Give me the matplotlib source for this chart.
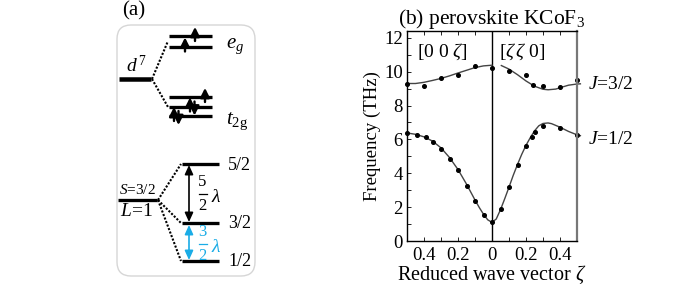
import matplotlib
matplotlib.use('Agg')
import matplotlib.pyplot as plt
from matplotlib.patches import FancyBboxPatch
from matplotlib.ticker import MultipleLocator, FuncFormatter

plt.rcParams['font.family'] = ['Liberation Serif', 'DejaVu Serif']
plt.rcParams['mathtext.fontset'] = 'custom'
plt.rcParams['mathtext.rm'] = 'Liberation Serif'
plt.rcParams['mathtext.it'] = 'Liberation Serif:italic'

# ---- (b) dispersion data: measured points ----
pts_x = [-0.5, -0.4, -0.3, -0.2, -0.1, 0.0, 0.1, 0.2, 0.24, 0.3, 0.4, 0.5]
pts_hi = [9.27, 9.17, 9.63, 9.82, 10.31, 10.22, 10.06, 9.78, 9.23, 9.17, 9.07, 9.49]

pts_lo_x = [-0.5, -0.44, -0.39, -0.345, -0.3, -0.25, -0.2, -0.15, -0.1, -0.05, 0.0,
            0.05, 0.1, 0.15, 0.2, 0.233, 0.25, 0.3, 0.4, 0.5]
pts_lo = [6.37, 6.27, 6.13, 5.84, 5.44, 4.85, 4.18, 3.25, 2.38, 1.54, 1.1,
          1.89, 3.17, 4.46, 5.62, 6.17, 6.41, 6.82, 6.67, 6.23]

# ---- fitted curves ----
cur_x_left = [-0.5, -0.45, -0.4, -0.35, -0.3, -0.25, -0.2, -0.15, -0.1, -0.05, 0.0]
cur_hi_left = [9.3, 9.3, 9.37, 9.48, 9.6, 9.75, 9.92, 10.08, 10.24, 10.34, 10.38]
cur_x_right = [0.055, 0.1, 0.15, 0.2, 0.25, 0.3, 0.33, 0.375, 0.4, 0.45, 0.5, 0.52]
cur_hi_right = [10.36, 10.15, 9.82, 9.45, 9.14, 8.96, 8.93, 8.97, 9.05, 9.2, 9.27, 9.28]

cur_lo_x = [-0.5, -0.45, -0.4, -0.35, -0.3, -0.25, -0.2, -0.15, -0.1, -0.075, -0.05,
            -0.025, 0.0, 0.025, 0.05, 0.075, 0.1, 0.125, 0.15, 0.175, 0.2, 0.225,
            0.25, 0.275, 0.3, 0.33, 0.35, 0.4, 0.45, 0.5, 0.52]
cur_lo = [6.38, 6.3, 6.15, 5.9, 5.5, 4.93, 4.22, 3.36, 2.42, 1.98, 1.58,
          1.25, 1.1, 1.3, 1.85, 2.5, 3.18, 3.88, 4.52, 5.12, 5.65, 6.1,
          6.5, 6.8, 6.94, 6.97, 6.93, 6.72, 6.47, 6.27, 6.22]

# ---- (a) level diagram, pixel positions ----
d7_y = 79
eg_y = [36, 46.5]
t2g_y = [97, 106.5, 116]
so_y = 200
j_names = ['5/2', '3/2', '1/2']
j_y = [164, 223, 261]

fig = plt.figure(figsize=(6.86, 2.85), dpi=100)

# diagram axes in pixel coordinates
axa = fig.add_axes([0, 0, 1, 1])
axa.set_xlim(0, 686)
axa.set_ylim(285, 0)
axa.axis('off')

box = FancyBboxPatch((117, 25), 138, 251, boxstyle='round,pad=0,rounding_size=14',
                     fc='none', ec='#d6d6d6', lw=1)
axa.add_patch(box)
axa.text(134, 11, '(a)', fontsize=15, ha='center', va='center')

lvl = 3.3 * 0.72
axa.plot([119, 151], [d7_y, d7_y], color='k', lw=4.5 * 0.72, solid_capstyle='butt')
axa.text(137, 76, r'$d^{\,7}$', fontsize=14, ha='center', va='bottom')
for y in eg_y + t2g_y:
    axa.plot([169, 212], [y, y], color='k', lw=lvl, solid_capstyle='butt')
axa.plot([152, 168], [d7_y, 41], color='k', lw=1.5, ls=(0, (1, 0.8)))
axa.plot([152, 168], [d7_y, 107], color='k', lw=1.5, ls=(0, (1, 0.8)))
axa.text(226, 46, r'$e_g$', fontsize=15, ha='left', va='center')
axa.text(226, 121, r'$t_{2\mathrm{g}}$', fontsize=15, ha='left', va='center')

# spins: (x, y of line, up?)
spins = [(195, eg_y[0], True), (185, eg_y[1], True),
         (205, t2g_y[0], True),
         (190, t2g_y[1], True), (194.5, t2g_y[1], False),
         (174, t2g_y[2], True), (178.5, t2g_y[2], False)]
for x, y, up in spins:
    if up:
        y0, y1 = y + 5, y - 9
    else:
        y0, y1 = y - 5, y + 9
    axa.annotate('', xy=(x, y1), xytext=(x, y0),
                 arrowprops=dict(arrowstyle='-|>,head_length=0.55,head_width=0.28',
                                 color='k', lw=1.7, shrinkA=0, shrinkB=0))

axa.plot([118, 157], [so_y, so_y], color='k', lw=lvl, solid_capstyle='butt')
axa.text(137, 197, r'$S$=3/2', fontsize=11, ha='center', va='bottom')
axa.text(136, 203, r'$L$=1', fontsize=14, ha='center', va='top')
for name, y in zip(j_names, j_y):
    axa.plot([182, 219], [y, y], color='k', lw=lvl, solid_capstyle='butt')
    axa.plot([158, 181], [so_y, y], color='k', lw=1.5, ls=(0, (1, 0.8)))
    axa.text(228, y + 1, name, fontsize=13, ha='left', va='center')

blue = '#1aace6'
axa.annotate('', xy=(189, j_y[0] + 1), xytext=(189, j_y[1] - 1),
             arrowprops=dict(arrowstyle='<|-|>,head_length=0.55,head_width=0.25',
                             color='k', lw=1.2, shrinkA=0, shrinkB=0))
axa.annotate('', xy=(189, j_y[1] + 2), xytext=(189, j_y[2] - 1),
             arrowprops=dict(arrowstyle='<|-|>,head_length=0.55,head_width=0.25',
                             color=blue, lw=1.2, shrinkA=0, shrinkB=0))


def frac_label(num, den, yc, color):
    # stacked fraction with lambda, drawn as separate pieces
    axa.text(202.5, yc - 12, num, fontsize=12, ha='center', va='center', color=color)
    axa.plot([198.5, 206.5], [yc, yc], color=color, lw=0.9)
    axa.text(202.5, yc + 12.5, den, fontsize=12, ha='center', va='center', color=color)
    axa.text(216, yc + 4, r'$\lambda$', fontsize=14, ha='center', va='center', color=color)


frac_label('5', '2', 194, 'k')
frac_label('3', '2', 244, blue)

# ---- (b) ----
ax = fig.add_axes([407 / 686, 1 - 241 / 285, 170 / 686, 210 / 285])
ax.set_xlim(-0.5, 0.5)
ax.set_ylim(0, 12.4)
ax.axvline(0, color='k', lw=1)

ax.plot(cur_x_left, cur_hi_left, color='#444444', lw=1, clip_on=False)
ax.plot(cur_x_right, cur_hi_right, color='#444444', lw=1, clip_on=False)
ax.plot(cur_lo_x, cur_lo, color='#444444', lw=1, clip_on=False)
ax.plot(pts_x, pts_hi, 'o', color='k', ms=2.6, clip_on=False)
ax.plot(pts_lo_x, pts_lo, 'o', color='k', ms=2.6, clip_on=False)

ax.xaxis.set_major_locator(MultipleLocator(0.2))
ax.xaxis.set_minor_locator(MultipleLocator(0.1))
ax.yaxis.set_major_locator(MultipleLocator(2))
ax.yaxis.set_minor_locator(MultipleLocator(1))
ax.xaxis.set_major_formatter(FuncFormatter(lambda v, p: '0' if abs(v) < 1e-9 else '%.1f' % abs(v)))
ax.tick_params(which='both', direction='in', top=True, right=False, length=3,
               width=0.6, labelsize=13.5, pad=4)
ax.tick_params(axis='y', pad=3)
for s in ['left', 'bottom', 'top']:
    ax.spines[s].set_linewidth(1)
ax.spines['right'].set_color('#777777')
ax.spines['right'].set_linewidth(1.6)

ax.text(-0.295, 11.2, r'[0 0 $\zeta$]', fontsize=14, ha='center', va='center')
ax.text(0.18, 11.2, r'[$\zeta\,\zeta$ 0]', fontsize=14, ha='center', va='center')
ax.text(0.565, 9.23, r'$J$=3/2', fontsize=14, ha='left', va='center', clip_on=False)
ax.text(0.565, 5.98, r'$J$=1/2', fontsize=14, ha='left', va='center', clip_on=False)

ax.set_ylabel('Frequency (THz)', fontsize=13.5, labelpad=2)
ax.set_xlabel(r'Reduced wave vector $\zeta$', fontsize=14.5, labelpad=0)
ax.set_title(r'(b) perovskite KCoF$_3$', fontsize=15.5, pad=5)

fig.savefig('out.png', dpi=100)
